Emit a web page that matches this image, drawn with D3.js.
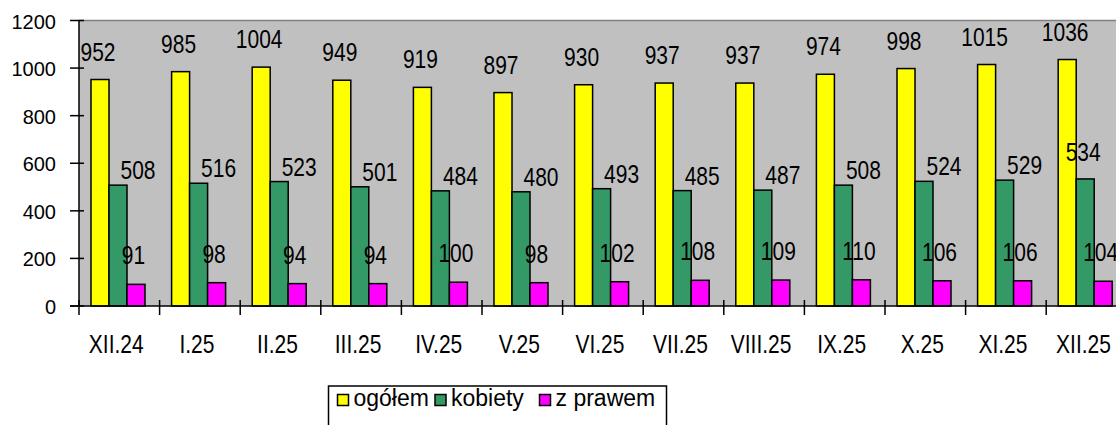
<!DOCTYPE html>
<html>
<head>
<meta charset="utf-8">
<script src="https://cdn.jsdelivr.net/npm/d3@7"></script>
<style>
  body { margin: 0; background: #fff; }
  svg { display: block; font-family: "Liberation Sans", Arial, sans-serif; }
</style>
</head>
<body>
<svg id="chart"></svg>
<script>
const categories = ['XII.24', 'I.25', 'II.25', 'III.25', 'IV.25', 'V.25', 'VI.25',
  'VII.25', 'VIII.25', 'IX.25', 'X.25', 'XI.25', 'XII.25'];
const ogolem = [952, 985, 1004, 949, 919, 897, 930, 937, 937, 974, 998, 1015, 1036];
const kobiety = [508, 516, 523, 501, 484, 480, 493, 485, 487, 508, 524, 529, 534];
const zPrawem = [91, 98, 94, 94, 100, 98, 102, 108, 109, 110, 106, 106, 104];
const seriesNames = ['ogółem', 'kobiety', 'z prawem'];
const yTicks = [0, 200, 400, 600, 800, 1000, 1200];

const width = 1116;
const height = 425;
const plot = { left: 79, top: 20.5, bottom: 306, bandWidth: 80.6 };

const colors = { 'ogółem': '#FFFF00', 'kobiety': '#339966', 'z prawem': '#FF00FF' };
// label placement per series (relative to bar centre / bar top)
const labelOffset = {
  'ogółem': { dx: -2, dy: -19 },
  'kobiety': { dx: 20, dy: -6 },
  'z prawem': { dx: -2.5, dy: -20 }
};

const series = [ogolem, kobiety, zPrawem];
const data = categories.map((c, i) => ({
  category: c,
  values: seriesNames.map((s, j) => ({ series: s, value: series[j][i] }))
}));

const svg = d3.select('#chart')
  .attr('width', width)
  .attr('height', height);

const x0 = d3.scaleBand()
  .domain(categories)
  .range([plot.left, plot.left + categories.length * plot.bandWidth]);

const x1 = d3.scaleBand()
  .domain(seriesNames)
  .range([12, 66]);

const y = d3.scaleLinear()
  .domain([0, 1200])
  .range([plot.bottom, plot.top]);

// plot area
svg.append('rect')
  .attr('x', plot.left)
  .attr('y', plot.top)
  .attr('width', width - plot.left + 20)
  .attr('height', plot.bottom - plot.top)
  .attr('fill', '#C0C0C0');

svg.append('line')
  .attr('x1', plot.left).attr('x2', width)
  .attr('y1', plot.top).attr('y2', plot.top)
  .attr('stroke', '#808080')
  .attr('stroke-width', 1.5);

// bars
const groups = svg.append('g')
  .selectAll('g')
  .data(data)
  .join('g')
  .attr('transform', d => `translate(${x0(d.category)},0)`);

groups.selectAll('rect')
  .data(d => d.values)
  .join('rect')
  .attr('x', d => x1(d.series))
  .attr('y', d => y(d.value))
  .attr('width', x1.bandwidth())
  .attr('height', d => y(0) - y(d.value))
  .attr('fill', d => colors[d.series])
  .attr('stroke', '#000')
  .attr('stroke-width', 1.5);

// axes
const axis = svg.append('g').attr('stroke', '#000').attr('stroke-width', 1.5);
axis.append('line')
  .attr('x1', plot.left).attr('x2', plot.left)
  .attr('y1', plot.top).attr('y2', plot.bottom);
axis.append('line')
  .attr('x1', plot.left - 9).attr('x2', width)
  .attr('y1', plot.bottom).attr('y2', plot.bottom);

axis.selectAll('.ytick')
  .data(yTicks)
  .join('line')
  .attr('x1', plot.left - 9).attr('x2', plot.left + 5)
  .attr('y1', d => y(d)).attr('y2', d => y(d));

axis.selectAll('.xtick')
  .data(d3.range(categories.length + 1))
  .join('line')
  .attr('x1', i => plot.left + i * plot.bandWidth)
  .attr('x2', i => plot.left + i * plot.bandWidth)
  .attr('y1', plot.bottom - 6).attr('y2', plot.bottom + 9);

svg.append('g')
  .selectAll('text')
  .data(yTicks)
  .join('text')
  .attr('x', 56)
  .attr('y', d => y(d) + 8)
  .attr('text-anchor', 'end')
  .attr('font-size', 20)
  .attr('fill', '#000')
  .text(d => d);

svg.append('g')
  .selectAll('text')
  .data(categories)
  .join('text')
  .attr('transform', d => `translate(${x0(d) + x0.bandwidth() / 2 - 3},353) scale(0.84,1)`)
  .attr('text-anchor', 'middle')
  .attr('font-size', 25)
  .attr('fill', '#000')
  .text(d => d);

// value labels
const labelLayer = svg.append('g');
data.forEach(d => {
  d.values.forEach(v => {
    const barCenter = x0(d.category) + x1(v.series) + x1.bandwidth() / 2;
    let { dx, dy } = labelOffset[v.series];
    const halfWidth = String(v.value).length * 25 * 0.556 * 0.84 / 2;
    // keep label inside the chart when it would run off the right edge
    if (v.series === 'kobiety' && barCenter + dx + halfWidth > width - 8) {
      dx = -2; dy = -18;
    }
    labelLayer.append('text')
      .attr('transform', `translate(${barCenter + dx},${y(v.value) + dy}) scale(0.84,1)`)
      .attr('text-anchor', 'middle')
      .attr('font-size', 25)
      .attr('fill', '#000')
      .text(v.value);
  });
});

// legend
const legendG = svg.append('g');
legendG.append('rect')
  .attr('x', 328.5).attr('y', 386)
  .attr('width', 338).attr('height', 60)
  .attr('fill', '#fff')
  .attr('stroke', '#000')
  .attr('stroke-width', 1.5);

const legendX = [337.5, 435, 539.5];
seriesNames.forEach((s, i) => {
  legendG.append('rect')
    .attr('x', legendX[i]).attr('y', 394.5)
    .attr('width', 11).attr('height', 11)
    .attr('fill', colors[s])
    .attr('stroke', '#000')
    .attr('stroke-width', 1.5);
  legendG.append('text')
    .attr('x', legendX[i] + 16)
    .attr('y', 406)
    .attr('font-size', 23)
    .attr('fill', '#000')
    .text(s);
});
</script>
</body>
</html>
